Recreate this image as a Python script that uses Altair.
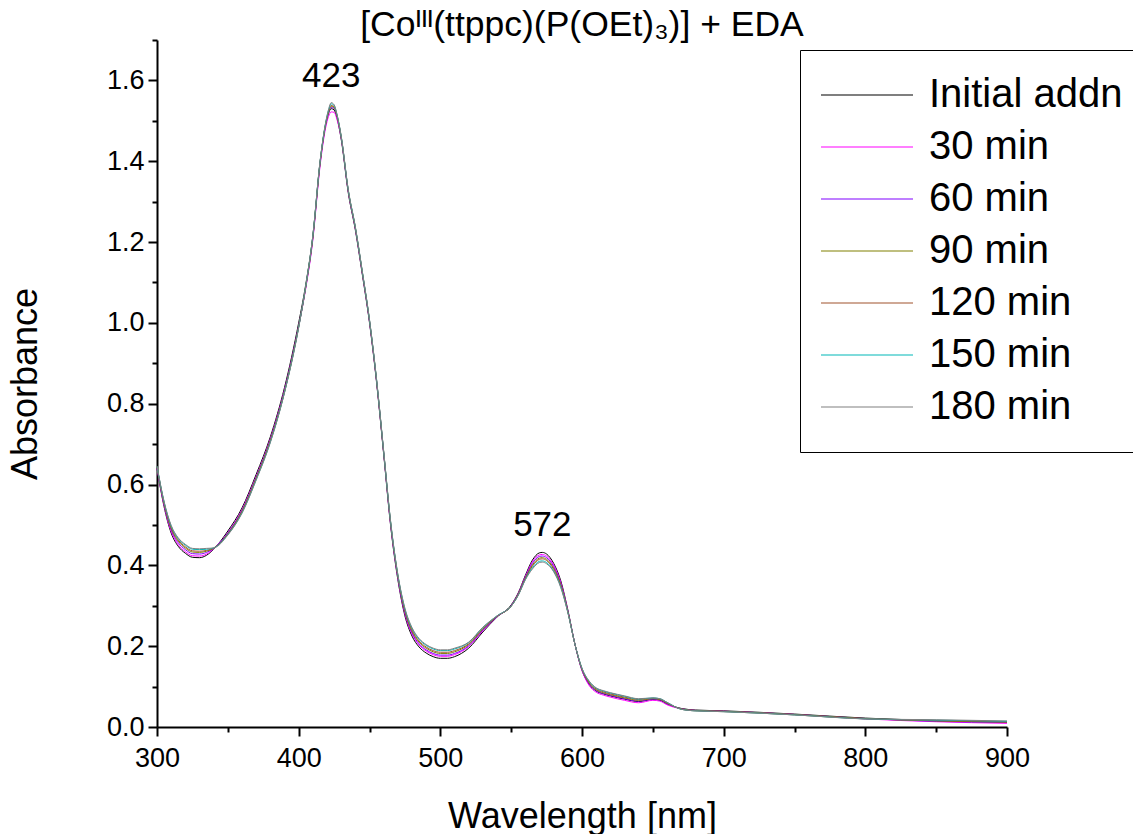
import altair as alt
import pandas as pd

wavelength = [300, 305, 310, 315, 320, 325, 330, 335, 340, 350, 360, 370, 380, 390, 400, 405,
              410, 415, 419, 421, 423, 425, 427, 430, 435, 440, 445, 450, 455, 460, 465, 470,
              475, 480, 485, 490, 495, 500, 505, 510, 520, 530, 540, 550, 555, 560, 565, 570,
              572, 575, 580, 585, 590, 595, 600, 605, 610, 615, 620, 630, 640, 650, 655, 660,
              670, 680, 700, 750, 800, 850, 900]

initial_addn = [.640, .545, .480, .447, .430, .420, .419, .425, .440, .485, .542, .625, .718, .840, 1.000, 1.095,
                1.215, 1.395, 1.490, 1.518, 1.530, 1.527, 1.508, 1.455, 1.322, 1.230, 1.118, 1.000, .852, .675, .495, .365,
                .275, .225, .198, .183, .174, .170, .170, .174, .195, .235, .272, .302, .332, .375, .413, .431,
                .432, .428, .405, .362, .290, .205, .140, .106, .089, .082, .077, .069, .063, .068, .066, .057,
                .046, .042, .040, .032, .022, .016, .012]

min30 = [.640, .548, .484, .451, .434, .424, .423, .428, .441, .481, .538, .620, .713, .834, .992, 1.085,
         1.205, 1.385, 1.482, 1.510, 1.522, 1.521, 1.504, 1.457, 1.325, 1.233, 1.121, 1.003, .855, .678, .498, .369,
         .280, .230, .203, .188, .179, .175, .175, .179, .199, .238, .273, .300, .330, .372, .409, .426,
         .427, .423, .401, .358, .288, .205, .140, .103, .086, .079, .074, .066, .060, .066, .064, .055,
         .045, .041, .039, .031, .020, .013, .009]

min60 = [.642, .551, .488, .456, .439, .429, .428, .432, .442, .480, .536, .618, .711, .832, .992, 1.088,
         1.209, 1.390, 1.488, 1.518, 1.533, 1.531, 1.512, 1.459, 1.326, 1.234, 1.122, 1.004, .856, .679, .500, .371,
         .283, .233, .206, .191, .182, .178, .178, .182, .201, .240, .273, .300, .329, .370, .405, .422,
         .423, .419, .397, .355, .287, .205, .142, .107, .090, .083, .078, .070, .064, .069, .067, .058,
         .045, .041, .039, .031, .021, .014, .011]

min90 = [.643, .553, .491, .460, .443, .433, .432, .435, .442, .478, .534, .616, .709, .830, .991, 1.089,
         1.211, 1.392, 1.490, 1.520, 1.536, 1.533, 1.513, 1.460, 1.327, 1.235, 1.123, 1.005, .857, .680, .502, .373,
         .286, .237, .210, .195, .186, .182, .182, .186, .204, .242, .274, .299, .328, .368, .401, .418,
         .419, .415, .393, .352, .286, .205, .143, .109, .092, .085, .080, .072, .066, .070, .068, .059,
         .045, .041, .039, .031, .021, .015, .012]

min120 = [.644, .555, .494, .463, .446, .436, .435, .437, .443, .477, .532, .614, .707, .829, .990, 1.090,
          1.213, 1.394, 1.492, 1.522, 1.538, 1.535, 1.514, 1.461, 1.328, 1.236, 1.124, 1.006, .858, .681, .503, .375,
          .289, .240, .213, .198, .189, .185, .185, .189, .206, .244, .274, .299, .327, .367, .398, .415,
          .416, .412, .390, .350, .285, .205, .144, .111, .094, .087, .082, .074, .068, .071, .069, .060,
          .044, .040, .038, .030, .020, .016, .013]

min150 = [.645, .557, .497, .466, .450, .440, .439, .440, .443, .476, .530, .612, .705, .828, .989, 1.091,
          1.215, 1.396, 1.494, 1.525, 1.542, 1.538, 1.516, 1.462, 1.329, 1.237, 1.125, 1.007, .859, .682, .505, .377,
          .292, .244, .217, .202, .193, .189, .189, .193, .209, .246, .275, .299, .326, .365, .394, .410,
          .411, .407, .386, .347, .284, .205, .145, .113, .096, .089, .084, .076, .069, .072, .070, .061,
          .044, .040, .038, .030, .020, .017, .014]

min180 = [.646, .558, .499, .468, .452, .442, .441, .442, .443, .475, .529, .611, .704, .827, .988, 1.091,
          1.216, 1.397, 1.495, 1.527, 1.545, 1.540, 1.517, 1.463, 1.330, 1.238, 1.126, 1.008, .860, .683, .506, .378,
          .294, .246, .219, .204, .195, .191, .191, .195, .210, .247, .275, .299, .326, .364, .391, .407,
          .408, .404, .384, .345, .283, .205, .145, .114, .097, .090, .085, .077, .070, .072, .070, .061,
          .044, .040, .038, .030, .020, .018, .015]

series_names = ["Initial addn", "30 min", "60 min", "90 min", "120 min", "150 min", "180 min"]
series_colors = ["#000000", "#FF00FF", "#8000FF", "#808000", "#A0522D", "#00B8B8", "#808080"]
series_values = [initial_addn, min30, min60, min90, min120, min150, min180]

peak_wl = [423, 572]
peak_label_y = [1.583, 0.472]
peak_text = ["423", "572"]

x_ticks = [300, 350, 400, 450, 500, 550, 600, 650, 700, 750, 800, 850, 900]
y_ticks = [0.0, 0.1, 0.2, 0.3, 0.4, 0.5, 0.6, 0.7, 0.8, 0.9, 1.0, 1.1, 1.2, 1.3, 1.4, 1.5, 1.6, 1.7]

rows = []
for k, (name, vals) in enumerate(zip(series_names, series_values)):
    for w, a in zip(wavelength, vals):
        rows.append({"wl": w, "A": a, "series": name, "k": k})
df = pd.DataFrame(rows)

ann = pd.DataFrame({"wl": peak_wl, "A": peak_label_y, "label": peak_text})

FONT = "Liberation Sans"

x_enc = alt.X("wl:Q", title="Wavelength [nm]",
              scale=alt.Scale(domain=[300, 900], nice=False, zero=False),
              axis=alt.Axis(values=x_ticks,
                            labelExpr="datum.value % 100 == 0 ? datum.label : ''",
                            tickSize={"condition": {"test": "datum.value % 100 == 0", "value": 9}, "value": 5},
                            labelFlush=False, labelOverlap=False, labelPadding=9,
                            titlePadding=28, format="d"))
y_enc = alt.Y("A:Q", title="Absorbance",
              scale=alt.Scale(domain=[0, 1.7], nice=False, zero=False),
              axis=alt.Axis(values=y_ticks,
                            labelExpr="round(datum.value*10) % 2 == 0 ? format(datum.value, '.1f') : ''",
                            tickSize={"condition": {"test": "round(datum.value*10) % 2 == 0", "value": 9}, "value": 5},
                            labelFlush=False, labelOverlap=False, labelPadding=4,
                            titlePadding=62))

lines = alt.Chart(df).mark_line(strokeWidth=1, interpolate="monotone").encode(
    x=x_enc,
    y=y_enc,
    color=alt.Color("series:N",
                    scale=alt.Scale(domain=series_names, range=series_colors),
                    sort=series_names,
                    legend=alt.Legend(title=None, orient="none", legendX=643, legendY=10,
                                      symbolType="stroke", symbolSize=8464, symbolStrokeWidth=1.2,
                                      labelFontSize=40, labelFont=FONT, labelColor="black",
                                      labelOffset=15, labelLimit=0, padding=20,
                                      clipHeight=50, rowPadding=2,
                                      strokeColor="black", fillColor="white", cornerRadius=0)),
    order=alt.Order("k:Q"),
    detail="series:N",
)

labels = alt.Chart(ann).mark_text(fontSize=35, font=FONT, color="black", baseline="alphabetic",
                                  align="center").encode(
    x=alt.X("wl:Q"), y=alt.Y("A:Q"), text="label:N")

chart = alt.layer(lines, labels).properties(
    width=850, height=687,
    title=alt.Title("[Coᴵᴵᴵ(ttppc)(P(OEt)₃)] + EDA", font=FONT, fontSize=35.5, fontWeight="normal",
                    color="black", anchor="middle", offset=-17),
    autosize=alt.AutoSizeParams(type="none"),
    padding={"left": 157, "top": 40, "right": 126, "bottom": 107},
    background="white",
).configure_axis(
    domainColor="black", domainWidth=2, tickColor="black", tickWidth=2, grid=False,
    labelFont=FONT, labelFontSize=27, labelColor="black",
    titleFont=FONT, titleFontSize=36, titleFontWeight="normal", titleColor="black",
).configure_view(stroke=None)

chart.save("out.html", embed_options={"renderer": "svg", "actions": False})
